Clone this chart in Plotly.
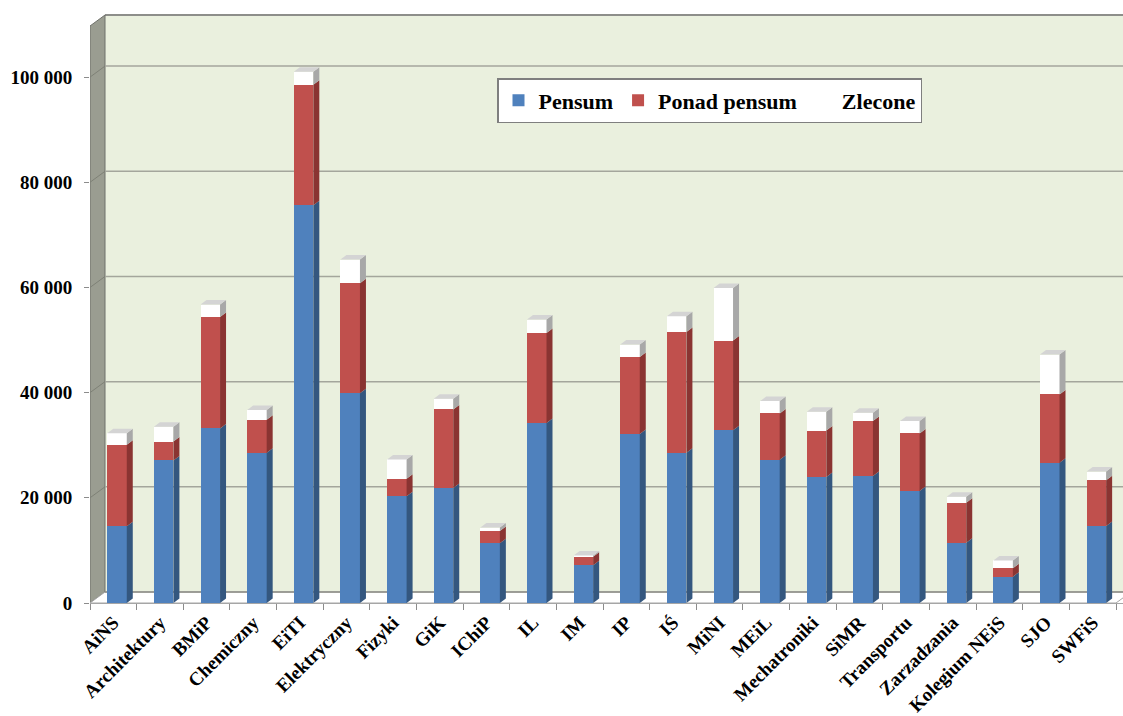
import plotly.graph_objects as go

# Faculty teaching hours: base load, overtime and commissioned hours
categories = ["AiNS", "Architektury", "BMiP", "Chemiczny", "EiTI", "Elektryczny",
              "Fizyki", "GiK", "IChiP", "IL", "IM", "IP", "IŚ", "MiNI", "MEiL",
              "Mechatroniki", "SiMR", "Transportu", "Zarzadzania", "Kolegium NEiS",
              "SJO", "SWFiS"]
pensum = [14600, 27100, 33200, 28550, 75650, 39900, 20300, 21850, 11350, 34250, 7200,
          32150, 28550, 32850, 27250, 23950, 24150, 21300, 11450, 5000, 26650, 14650]
ponad_pensum = [15500, 3600, 21200, 6300, 22900, 20900, 3350, 14950, 2350, 17100, 1600,
                14650, 23000, 17050, 8800, 8850, 10450, 10950, 7600, 1600, 13000, 8700]
zlecone = [2200, 2800, 2350, 1850, 2450, 4500, 3650, 2050, 650, 2550, 250,
           2350, 3000, 10000, 2350, 3550, 1600, 2350, 1150, 1500, 7600, 1650]
series_names = ["Pensum", "Ponad pensum", "Zlecone"]
y_ticks = [0, 20000, 40000, 60000, 80000, 100000]

# ---- page / axis geometry ----
W, H = 1123, 716
ML, MR, MT, MB = 90, 0, 14, 113
x_range = [-0.5, 21.65]
y_range = [0, 112000]
ux = (W - ML - MR) / (x_range[1] - x_range[0])   # pixels per category
uy = (H - MT - MB) / (y_range[1] - y_range[0])   # pixels per hour


def dx(px):
    return px / ux


def dy(px):
    return px / uy


wall_dx, wall_dy = dx(15), dy(11)       # depth of the box walls
bar_w, bar_shift = dx(19.5), dx(3.7)    # front face of each column
side_dx, side_dy = dx(6), dy(4.5)       # depth of each column

front_colors = ["#4F81BD", "#C0504D", "#FFFFFF"]
side_colors = ["#34577F", "#8A3432", "#A8A8A8"]
top_color = "#D4D4D4"

FONT = "Liberation Serif"

fig = go.Figure()
for name, vals, col in zip(series_names, [pensum, ponad_pensum, zlecone], front_colors):
    fig.add_trace(go.Bar(
        x=categories, y=vals, name=name, marker=dict(color=col, line=dict(width=0)),
        width=bar_w, offset=-bar_w / 2 + bar_shift,
    ))


def poly(points):
    return "M " + " L ".join(f"{x:.4f},{y:.2f}" for x, y in points) + " Z"


shapes = []
x_left = x_range[0]
x_far = x_range[1] + 1
y_top = y_range[1] - dy(1)

# back wall
shapes.append(dict(type="rect", xref="x", yref="y", layer="below",
                   x0=x_left + wall_dx, x1=x_far, y0=wall_dy, y1=y_range[1],
                   fillcolor="#EAF0DE", line=dict(width=0)))
# left wall
shapes.append(dict(type="path", xref="x", yref="y", layer="below",
                   path=poly([(x_left, 0), (x_left, y_top - wall_dy),
                              (x_left + wall_dx, y_top), (x_left + wall_dx, wall_dy)]),
                   fillcolor="#9A9D91", line=dict(color="#6F716A", width=1)))
# floor
x_end = len(categories) - 0.5
shapes.append(dict(type="path", xref="x", yref="y", layer="below",
                   path=poly([(x_left, 0), (x_end, 0), (x_end + wall_dx, wall_dy),
                              (x_left + wall_dx, wall_dy)]),
                   fillcolor="#FFFFFF", line=dict(color="#A6A6A6", width=1)))
# back wall top edge
shapes.append(dict(type="line", xref="x", yref="y", layer="below",
                   x0=x_left + wall_dx, x1=x_far, y0=y_top, y1=y_top,
                   line=dict(color="#6E6E6E", width=1.5)))
# gridlines on back and left walls
for v in y_ticks:
    shapes.append(dict(type="line", xref="x", yref="y", layer="below",
                       x0=x_left + wall_dx, x1=x_far, y0=v + wall_dy, y1=v + wall_dy,
                       line=dict(color="#8C8C86" if v == 0 else "#A4A69C", width=1.5)))
    if v > 0:
        shapes.append(dict(type="line", xref="x", yref="y", layer="below",
                           x0=x_left, x1=x_left + wall_dx, y0=v, y1=v + wall_dy,
                           line=dict(color="#7E8176", width=1)))

# column sides and tops
bottoms = [0.0] * len(categories)
for k, vals in enumerate([pensum, ponad_pensum, zlecone]):
    for i, v in enumerate(vals):
        y0, y1 = bottoms[i], bottoms[i] + v
        xl = i - bar_w / 2 + bar_shift
        xr = xl + bar_w
        shapes.append(dict(type="path", xref="x", yref="y", layer="above",
                           path=poly([(xr, y0), (xr + side_dx, y0 + side_dy),
                                      (xr + side_dx, y1 + side_dy), (xr, y1)]),
                           fillcolor=side_colors[k], line=dict(width=0)))
        if k == 2:
            shapes.append(dict(type="path", xref="x", yref="y", layer="above",
                               path=poly([(xl, y1), (xr, y1), (xr + side_dx, y1 + side_dy),
                                          (xl + side_dx, y1 + side_dy)]),
                               fillcolor=top_color, line=dict(width=0)))
        bottoms[i] = y1

fig.update_layout(
    width=W, height=H,
    margin=dict(l=ML, r=MR, t=MT, b=MB),
    paper_bgcolor="white", plot_bgcolor="rgba(0,0,0,0)",
    barmode="stack", bargap=0,
    separators=", ",
    shapes=shapes,
    font=dict(family=FONT, color="black"),
    legend=dict(
        orientation="h", x=(497 - ML) / (W - ML - MR), y=(H - MB - 100.5) / (H - MT - MB),
        xanchor="left", yanchor="middle", bgcolor="white", bordercolor="#7F7F7F",
        borderwidth=1.5, font=dict(family=FONT, size=22, weight="bold", color="black"),
        traceorder="normal",
    ),
    xaxis=dict(
        type="category", range=x_range, tickson="boundaries", ticks="outside",
        ticklen=6, tickcolor="#8C8C8C", tickangle=-45, showgrid=False, zeroline=False,
        showline=True, linecolor="#A6A6A6", linewidth=1,
        tickfont=dict(family=FONT, size=19, weight="bold", color="black"),
    ),
    yaxis=dict(
        range=y_range, tickvals=y_ticks, tickformat=",d", ticks="outside", ticklen=5,
        tickcolor="#8C8C8C", showgrid=False, zeroline=False, showline=False,
        ticklabelstandoff=8,
        tickfont=dict(family=FONT, size=19, weight="bold", color="black"),
    ),
)

fig.write_html("out.html")
